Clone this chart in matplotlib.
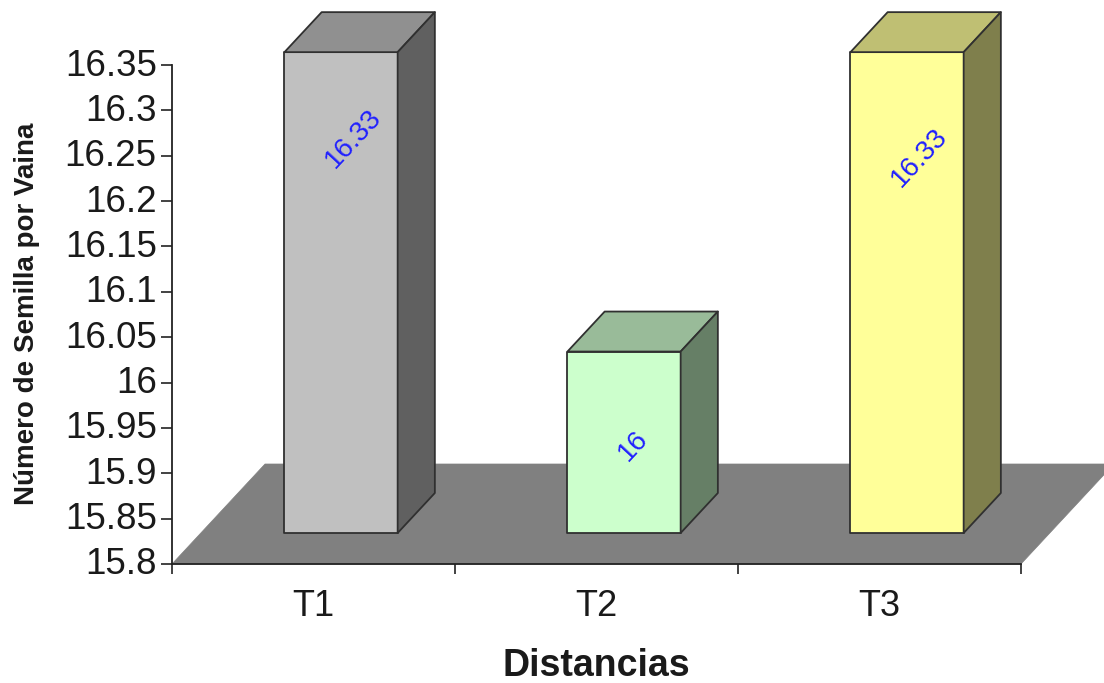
import matplotlib
matplotlib.use("Agg")
import matplotlib.pyplot as plt
from matplotlib.patches import Polygon
from matplotlib.transforms import ScaledTranslation

categories = ["T1", "T2", "T3"]
values = [16.33, 16, 16.33]
value_labels = ["16.33", "16", "16.33"]
front_colors = ["#c0c0c0", "#ccffcc", "#ffff99"]
top_colors = ["#909090", "#99bb99", "#bfbf73"]
side_colors = ["#606060", "#667f66", "#7f7f4c"]
y_ticks = [15.8, 15.85, 15.9, 15.95, 16, 16.05, 16.1, 16.15, 16.2, 16.25, 16.3, 16.35]
y_labels = ["15.8", "15.85", "15.9", "15.95", "16", "16.05", "16.1", "16.15", "16.2", "16.25", "16.3", "16.35"]

W, H = 1104, 683
plt.rcParams['font.family'] = ['Liberation Sans', 'DejaVu Sans']

fig = plt.figure(figsize=(W / 100, H / 100), dpi=100)
ax = fig.add_axes([172 / W, 1 - 564 / H, (1021 - 172) / W, (564 - 65) / H])
ax.set_xlim(0, 3)
ax.set_ylim(15.8, 16.35)

# depth of the fake 3d floor, in data units
depth_x = 93 / 283
depth_y = 100 / (499 / 0.55)


def project(x, y, d):
    # d goes from 0 (front of floor) to 1 (back of floor)
    return (x + d * depth_x, y + d * depth_y)


def face(points, color, z):
    ax.add_patch(Polygon(points, closed=True, facecolor=color, edgecolor="#303030",
                         linewidth=1.3, joinstyle="round", clip_on=False, zorder=z))


# floor
ax.add_patch(Polygon([project(0, 15.8, 0), project(0, 15.8, 1), project(3, 15.8, 1), project(3, 15.8, 0)],
                     closed=True, facecolor="#808080", edgecolor="#808080", linewidth=0.5,
                     clip_on=False, zorder=1))

bar_w = 0.4
d0, d1 = 0.31, 0.71
for i, v in enumerate(values):
    x0 = i + 0.4955 - bar_w / 2
    x1 = i + 0.4955 + bar_w / 2
    face([project(x0, 15.8, d0), project(x1, 15.8, d0), project(x1, v, d0), project(x0, v, d0)], front_colors[i], 3)
    face([project(x0, v, d0), project(x1, v, d0), project(x1, v, d1), project(x0, v, d1)], top_colors[i], 3)
    face([project(x1, 15.8, d0), project(x1, 15.8, d1), project(x1, v, d1), project(x1, v, d0)], side_colors[i], 3)

# value labels sit on the front faces, rotated
label_pos = [(0.64, 16.269), (1.63, 15.93), (2.64, 16.248)]
for (lx, ly), txt in zip(label_pos, value_labels):
    ax.text(lx, ly, txt, color="#2020ff", fontsize=20, rotation=47, ha="center", va="center", zorder=5)

for s in ["top", "right"]:
    ax.spines[s].set_visible(False)
for s in ["left", "bottom"]:
    ax.spines[s].set_linewidth(1.3)
    ax.spines[s].set_color("#222222")
    ax.spines[s].set_zorder(4)

ax.set_xticks([0, 1, 2, 3])
ax.set_xticklabels([])
ax.set_yticks(y_ticks)
ax.set_yticklabels(y_labels, fontsize=26.5, color="#1a1a1a")
ax.tick_params(axis="y", length=8, width=1.2, pad=3, color="#222222")
ax.tick_params(axis="x", length=7.5, width=1.2, color="#222222")
# tick labels sit a little above their ticks in the original
up = ScaledTranslation(0, 3 / 100, fig.dpi_scale_trans)
for lab in ax.get_yticklabels():
    lab.set_transform(lab.get_transform() + up)
for i, c in enumerate(categories):
    ax.text(i + 0.5, -0.085, c, transform=ax.get_xaxis_transform(), fontsize=26, ha="center", va="center", color="#1a1a1a")

fig.text(596 / W, 1 - 666 / H, "Distancias", fontsize=27, fontweight="bold", ha="center", va="center", color="#1a1a1a")
fig.text(27 / W, 1 - 314 / H, "Número de Semilla por Vaina", fontsize=20, fontweight="bold", rotation=90,
         ha="center", va="center", color="#1a1a1a")

fig.savefig("out.png", dpi=100)
